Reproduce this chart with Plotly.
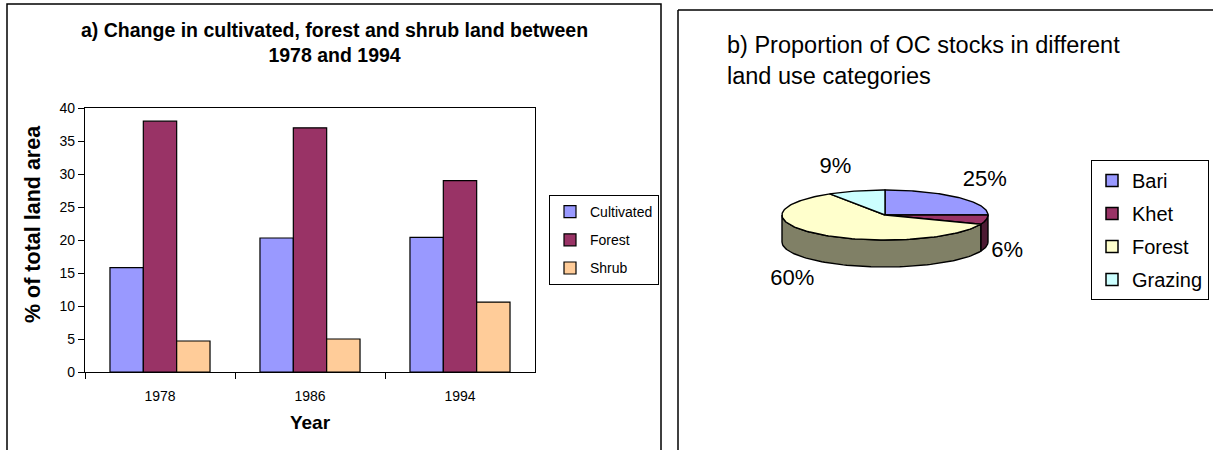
import numpy as np
import plotly.graph_objects as go

# ---------------- data ----------------
years = ["1978", "1986", "1994"]
cultivated = [15.8, 20.3, 20.4]
forest = [38.0, 37.0, 29.0]
shrub = [4.7, 5.0, 10.6]
bar_series = ["Cultivated", "Forest", "Shrub"]

pie_labels = ["Bari", "Khet", "Forest", "Grazing"]
pie_values = [25, 6, 60, 9]

# ---------------- styling ----------------
FONT = "Liberation Sans, Arial, sans-serif"
W, H = 1213, 450
bar_colors = ["#9999FF", "#993366", "#FFCC99"]
pie_colors = ["#9999FF", "#993366", "#FFFFCC", "#CCFFFF"]
pie_side_colors = ["#4d4d80", "#4d1a33", "#808066", "#668080"]

# 3D pie geometry (pixel-like units on a dedicated axis)
CX, CY, RX, RY, DEPTH = 885.0, 215.0, 103.0, 25.0, 27.0


def px_x(p):
    return p / W


def px_y(p):
    return 1 - p / H


fig = go.Figure()

# ---------------- bar chart ----------------
for name, vals, col in zip(bar_series, [cultivated, forest, shrub], bar_colors):
    fig.add_trace(go.Bar(
        x=years, y=vals, name=name,
        marker=dict(color=col, line=dict(color="black", width=1.2)),
        legend="legend", legendgroup="a_" + name,
        xaxis="x", yaxis="y", hoverinfo="x+y+name",
    ))

# ---------------- 3D pie ----------------
total = float(sum(pie_values))
bounds = np.concatenate([[0.0], np.cumsum(pie_values) / total * 2 * np.pi])


def ell(t, dy=0.0):
    return CX + RX * np.sin(t), CY - RY * np.cos(t) + dy


# side walls (front half only: pi/2 .. 3pi/2)
for i in range(len(pie_values)):
    a, b = bounds[i], bounds[i + 1]
    lo, hi = max(a, np.pi / 2), min(b, 3 * np.pi / 2)
    if hi <= lo:
        continue
    t = np.linspace(lo, hi, 80)
    xt, yt = ell(t)
    xb, yb = ell(t[::-1], DEPTH)
    xs = np.concatenate([xt, xb, xt[:1]])
    ys = np.concatenate([yt, yb, yt[:1]])
    fig.add_trace(go.Scatter(
        x=xs, y=ys, mode="lines", fill="toself",
        fillcolor=pie_side_colors[i], line=dict(color="black", width=1.4),
        xaxis="x2", yaxis="y2", showlegend=False, hoverinfo="skip",
    ))

# top faces
for i in range(len(pie_values)):
    a, b = bounds[i], bounds[i + 1]
    t = np.linspace(a, b, 120)
    xt, yt = ell(t)
    xs = np.concatenate([[CX], xt, [CX]])
    ys = np.concatenate([[CY], yt, [CY]])
    fig.add_trace(go.Scatter(
        x=xs, y=ys, mode="lines", fill="toself",
        fillcolor=pie_colors[i], line=dict(color="black", width=1.4),
        xaxis="x2", yaxis="y2", showlegend=False,
        name=pie_labels[i], hoverinfo="name",
    ))

# percentage labels, placed just outside each slice's mid-point
mids = (bounds[:-1] + bounds[1:]) / 2
s, c = np.sin(mids), np.cos(mids)
lx = CX + RX * s + np.where(s >= 0, 5, -5)
ly = CY - RY * c - 24 * c + np.where(c < 0, DEPTH, 0)
fig.add_trace(go.Scatter(
    x=lx, y=ly, mode="text", text=[f"{v}%" for v in pie_values],
    textposition=["middle right" if v >= 0 else "middle left" for v in s],
    textfont=dict(family=FONT, size=22, color="black"),
    xaxis="x2", yaxis="y2", showlegend=False, hoverinfo="skip",
))

# legend entries for pie (bar-style square icons)
for lab, col in zip(pie_labels, pie_colors):
    fig.add_trace(go.Bar(
        x=[None], y=[None], name=lab,
        marker=dict(color=col, line=dict(color="black", width=1.5)),
        legend="legend2", legendgroup="b_" + lab,
        xaxis="x2", yaxis="y2",
    ))

# ---------------- layout ----------------
axis_font = dict(family=FONT, size=14, color="black")
fig.update_layout(
    template="none",
    width=W, height=H, autosize=False,
    margin=dict(l=0, r=0, t=0, b=0, pad=0, autoexpand=False),
    paper_bgcolor="white", plot_bgcolor="rgba(0,0,0,0)",
    font=dict(family=FONT, color="black"),
    barmode="group", bargap=0.333, bargroupgap=0,
    xaxis=dict(
        domain=[px_x(85), px_x(535)], anchor="y", automargin=False,
        type="category", range=[-0.5, 2.5],
        tickson="boundaries", ticks="outside", ticklen=6, tickcolor="black",
        ticklabelstandoff=11,
        showline=True, linecolor="black", linewidth=1.2, mirror=True,
        showgrid=False, zeroline=False, tickfont=axis_font,
        title=dict(text="<b>Year</b>", font=dict(family=FONT, size=19), standoff=12),
        fixedrange=True,
    ),
    yaxis=dict(
        domain=[px_y(372), px_y(108)], anchor="x", automargin=False,
        range=[0, 40], dtick=5, ticks="outside", ticklen=6, tickcolor="black",
        showline=True, linecolor="black", linewidth=1.2, mirror=True,
        showgrid=False, zeroline=False, tickfont=axis_font,
        fixedrange=True,
    ),
    xaxis2=dict(domain=[0.5, 1.0], anchor="y2", range=[W * 0.5, W],
                visible=False, fixedrange=True, automargin=False),
    yaxis2=dict(domain=[0.0, 1.0], anchor="x2", range=[H, 0],
                visible=False, fixedrange=True, automargin=False),
    legend=dict(
        x=px_x(659), y=px_y(195), xanchor="right", yanchor="top",
        bordercolor="black", borderwidth=1, bgcolor="white",
        font=dict(family=FONT, size=14), traceorder="grouped",
        tracegroupgap=7, itemwidth=30,
    ),
    legend2=dict(
        x=px_x(1209), y=px_y(160), xanchor="right", yanchor="top",
        bordercolor="black", borderwidth=1, bgcolor="white",
        font=dict(family=FONT, size=20), traceorder="grouped",
        tracegroupgap=4, itemwidth=30,
    ),
    annotations=[
        dict(text="<b>a) Change in cultivated, forest and shrub land between<br>1978 and 1994</b>",
             x=px_x(335), y=px_y(42), xref="paper", yref="paper",
             xanchor="center", yanchor="middle", showarrow=False,
             font=dict(family=FONT, size=19.5, color="black")),
        dict(text="<b>% of total land area</b>", textangle=-90,
             x=px_x(33), y=px_y(224), xref="paper", yref="paper",
             xanchor="center", yanchor="middle", showarrow=False,
             font=dict(family=FONT, size=21.5, color="black")),
        dict(text="b) Proportion of OC stocks in different<br>land use categories",
             x=px_x(725), y=px_y(61), xref="paper", yref="paper",
             xanchor="left", yanchor="middle", align="left", showarrow=False,
             font=dict(family=FONT, size=23.5, color="black")),
    ],
    shapes=[
        dict(type="rect", xref="paper", yref="paper",
             x0=px_x(7), x1=px_x(661), y0=px_y(460), y1=px_y(4),
             line=dict(color="black", width=1.5), layer="below"),
        dict(type="line", xref="paper", yref="paper",
             x0=px_x(678), x1=px_x(1220), y0=px_y(10), y1=px_y(10),
             line=dict(color="black", width=1.5)),
        dict(type="line", xref="paper", yref="paper",
             x0=px_x(678), x1=px_x(678), y0=px_y(10), y1=px_y(460),
             line=dict(color="black", width=1.5)),
    ],
)

fig.write_html(
    "out.html",
    config={"displayModeBar": False},
    post_script="document.body.style.margin='0';document.body.style.overflow='hidden';",
)
